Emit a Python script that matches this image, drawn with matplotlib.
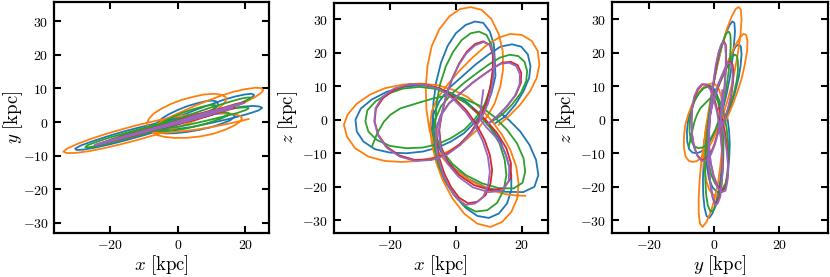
import matplotlib
matplotlib.use('Agg')
import matplotlib.pyplot as plt
from matplotlib.ticker import FuncFormatter

plt.rcParams['mathtext.fontset'] = 'cm'

# orbit traces (kpc)
blue_x = [12, 15, 18, 20.5, 22.2, 22.6, 21.8, 19.8, 17, 13.5,
          10, 6, 2, -2, -5, -6.8, -7.3,
          -6.8, -5.5, -3.5, -0.5, 3, 6.5, 10, 13, 15.5, 16.8, 16.8, 15.5, 13.5, 10.5, 7, 3,
          -1.5, -6, -11, -16, -21, -25.5, -28.8, -30.4, -30, -28, -24.5, -20, -15, -10, -5.5, -1.5, 2.5, 6, 9,
          10.8, 12, 11.8, 11.5, 10.3, 8.3, 5.8, 3, 0, -2.5, -4.5, -6, -6.8, -7, -6.3,
          -4, -0.5, 4, 9.3, 15, 20.4, 23.8, 25, 24.3, 22.3, 19.5, 16.2, 13.8]
blue_z = [-1, 1, 4.5, 8.5, 12.5, 16, 19.5, 21.8, 22.5, 21.8,
          19.5, 16.5, 13, 9.5, 5.5, 1.5, -3,
          -8, -13, -18, -22.5, -26.3, -28.7, -29.3, -28, -25, -21, -16.5, -11.5, -6.5, -2, 2, 5.5,
          8, 9.6, 10.3, 9.8, 8.3, 6, 3.3, 0, -3.5, -6.5, -8.8, -9.8, -10, -9.5, -8.3, -6.5, -4, -0.5, 3.5,
          8, 13, 18, 22.5, 26.3, 28.9, 29.3, 28.3, 25.8, 22, 17, 11, 5, -1, -6,
          -10.5, -14.5, -17.8, -20.3, -21.5, -21.6, -20, -16.5, -12, -7.5, -3.5, -0.2, 1.8]
blue_y = [3.0, 4.0, 5.3, 6.5, 7.5, 8.1, 8.4, 8.2, 7.6, 6.6,
          5.3, 3.9, 2.3, 0.8, -0.5, -1.6, -2.3,
          -2.9, -3.2, -3.4, -3.3, -2.9, -2.3, -1.5, -0.5, 0.5, 1.5, 2.1, 2.4, 2.6, 2.4, 2.1, 1.6,
          0.7, -0.3, -1.5, -2.8, -4.3, -5.8, -7.0, -7.9, -8.3, -8.2, -7.6, -6.6, -5.3, -3.9, -2.6, -1.3, 0.1, 1.5, 2.8,
          3.9, 4.9, 5.6, 6.1, 6.4, 6.2, 5.6, 4.8, 3.6, 2.4, 1.2, -0.1, -1.1, -1.9, -2.4,
          -2.5, -2.1, -1.5, -0.4, 0.9, 2.3, 3.4, 4.2, 4.6, 4.8, 4.6, 4.2, 3.8]

orange_x = [13, 16, 19.5, 22.5, 24.5, 25.3, 24.8, 23, 20, 16.5, 13,
            9, 5, 1, -2.5, -5.5, -7.3, -7.8,
            -7.3, -6, -4, -1, 2.5, 6.5, 10.5, 14, 16.8, 18.6, 19, 18.3, 16.5, 14, 11, 7.5, 3.5,
            -1, -5.5, -10.7, -16, -21.5, -26, -30, -32.8, -33.9, -33, -30.5, -26.5, -21.5, -16.5, -11.5,
            -6.7, -2, 2.5, 6.5, 9.5, 11.8,
            13.5, 14.3, 14.2, 13, 10.8, 7.8, 4.5, 1.2, -2, -5, -7.3, -8.6, -9.1, -8.9, -8, -6.3,
            -3.5, 0.5, 5, 10, 15, 18.5, 21]
orange_z = [-1.5, 1, 4.5, 8.5, 12.5, 16.5, 20.5, 23.5, 25.3, 25.6, 24.5,
            22, 18.5, 14.5, 10.5, 6.5, 2.5, -2,
            -7, -12.5, -18, -23.5, -28, -31, -32, -30.5, -27.5, -23.5, -19, -14, -9, -4.5, -0.5, 3.5, 6.8,
            9, 10.3, 10.8, 10.5, 9.4, 7.5, 4.8, 1.5, -1.5, -5, -8.5, -11, -12.3, -12.6, -12.3,
            -11.3, -9.3, -6.5, -3, 1, 5,
            10, 15, 20.5, 25.5, 30, 32.8, 33.6, 33, 30.8, 27, 22, 16, 9.8, 3, -3, -8,
            -12, -15.5, -18.5, -20.8, -22.2, -22.6, -22.7]
orange_y = [3.0, 4.2, 5.7, 7.2, 8.5, 9.4, 10.1, 10.2, 9.8, 9.0, 7.9,
            6.4, 4.8, 3.0, 1.4, -0.2, -1.3, -2.3,
            -3.1, -3.9, -4.4, -4.7, -4.7, -4.3, -3.5, -2.3, -1.0, 0.2, 1.2, 1.9, 2.4, 2.6, 2.7, 2.6, 2.2,
            1.5, 0.6, -0.6, -2.0, -3.6, -5.1, -6.6, -7.9, -8.8, -9.2, -9.2, -8.7, -7.7, -6.5, -5.2,
            -3.8, -2.3, -0.6, 1.0, 2.6, 3.9,
            5.3, 6.4, 7.4, 8.1, 8.4, 8.2, 7.5, 6.6, 5.4, 3.9, 2.4, 0.9, -0.4, -1.6, -2.6, -3.1,
            -3.2, -2.8, -2.3, -1.5, -0.5, 0.3, 0.9]

green_x = [11, 14, 17, 19.7, 21.3, 21.6, 20.8, 18.9, 16.3, 13.3,
           10, 6.5, 2.5, -1.5, -4.5, -6.3, -6.8,
           -6.3, -5, -3, -0.5, 2.5, 6, 9.5, 12.5, 14.5, 15.3, 14.8, 13.2, 10.5, 7, 3,
           -1.5, -6, -11, -16, -20.5, -24.3, -26.8, -27.4, -26.5, -24, -20, -15, -10, -5.5, -1.5, 2.5, 6, 8.7,
           10.3, 11.2, 11.3, 10.8, 9.3, 7, 4.5, 1.8, -0.8, -3, -4.8, -5.8, -6.2, -5.8,
           -4, -1, 3, 8, 13, 17.5, 20.2, 21, 20.5, 18.5, 15.5, 11.5, 7, 2, -2.5,
           -6.7, -11.5, -16.8, -19.8, -21.8, -23.8, -25.4]
green_z = [-0.5, 1.5, 4.5, 8, 11.5, 14.5, 17.3, 19, 19.4, 18.5,
           16.5, 14, 11, 7.5, 4, 0, -4,
           -9, -14, -18.5, -22.5, -25.6, -27.4, -27, -24.8, -21, -16.5, -12, -7, -2.5, 1.5, 5,
           7.5, 9.2, 9.8, 9.3, 7.8, 5.5, 2.8, -0.5, -3.5, -6, -7.8, -8.5, -8.3, -7.3, -5.5, -3, 0.5, 4.5,
           9, 14, 18.5, 22.3, 25.3, 26.3, 25.8, 23.8, 20.3, 16, 10.5, 5, -0.5, -5.5,
           -9.5, -13.2, -16.5, -19, -20.4, -20.5, -18.8, -15.5, -11.5, -7, -3, 1, 4.3, 6.5, 7.2,
           6.4, 5, 3.4, 1.5, -0.6, -4, -8]
green_y = [2.9, 3.9, 5.0, 6.1, 6.9, 7.3, 7.3, 7.0, 6.3, 5.4,
           4.4, 3.2, 1.8, 0.35, -0.8, -1.7, -2.2,
           -2.6, -2.75, -2.65, -2.4, -1.9, -1.1, -0.1, 0.9, 1.8, 2.5, 2.8, 2.9, 2.6, 2.0, 1.3,
           0.35, -0.7, -2.0, -3.4, -4.7, -6.0, -6.9, -7.45, -7.5, -7.1, -6.2, -4.9, -3.5, -2.2, -0.95, 0.4, 1.7, 2.8,
           3.7, 4.4, 4.9, 5.1, 5.0, 4.5, 3.8, 2.9, 1.8, 0.8, -0.25, -1.1, -1.7, -2.1,
           -2.0, -1.6, -0.85, 0.3, 1.5, 2.65, 3.6, 4.1, 4.4, 4.3, 3.9, 3.2, 2.3, 1.2, 0.0,
           -1.2, -2.6, -4.2, -5.2, -6.0, -6.8, -7.7]

red_x = [10, 12.5, 15.5, 18.2, 19.7, 19.8, 18.7, 16.6, 14, 11.5,
         8.5, 5, 1.5, -2, -4.5, -5.8, -5.8,
         -5, -3.5, -1.5, 1, 3.7, 6.5, 9, 10.5, 11, 10.3, 8.7, 6.3, 3.2,
         -0.5, -4.5, -9, -14, -18.5, -22, -24.2, -24.6, -23.5, -21, -17.2, -12.5, -7.5, -3, 1, 4.5, 7.3,
         9.2, 10.5, 11.2, 11.2, 10.3, 8.3, 5.8, 3.3, 1, -1, -2.8, -4.2, -5,
         -4.5, -2.5, 1, 5.5, 10.5, 14.5, 16.6, 16.7, 15.3, 12.5, 9, 5]
red_z = [-1, 1, 4, 7.5, 11, 14, 16.3, 17.3, 17, 15.6,
         13.5, 11, 8, 5, 1.5, -2.5, -7,
         -11.5, -16, -20, -23.3, -24.9, -24.5, -22.5, -19, -15, -10.5, -6, -1.5, 2.8,
         6.5, 9.2, 10.5, 10.5, 9, 6.5, 3.3, -0.5, -4.5, -8, -10.6, -12, -11.8, -10.3, -7.5, -3.8, 0.5,
         5, 10, 15, 19.5, 22.3, 23.4, 22.6, 20.3, 16.8, 12.5, 7.5, 2, -3,
         -8, -12.5, -16.5, -19.5, -21, -20.5, -17.5, -13, -8.5, -4, 0, 3.5]
red_y = [2.8, 3.5, 4.5, 5.3, 5.8, 5.9, 5.7, 5.2, 4.4, 3.7,
         2.8, 1.7, 0.65, -0.4, -1.2, -1.7, -1.8,
         -1.75, -1.5, -1.0, -0.4, 0.3, 1.1, 1.8, 2.3, 2.6, 2.6, 2.2, 1.7, 1.0,
         0.05, -1.0, -2.2, -3.6, -4.9, -6.0, -6.7, -6.9, -6.7, -6.1, -5.1, -3.9, -2.45, -1.15, 0.05, 1.15, 2.0,
         2.7, 3.2, 3.6, 3.7, 3.6, 3.0, 2.3, 1.5, 0.8, 0.1, -0.6, -1.1, -1.5,
         -1.5, -1.1, -0.2, 0.95, 2.3, 3.5, 4.1, 4.3, 4.0, 3.4, 2.5, 1.5]

purple_x = [9.5, 12, 15, 17.8, 19.3, 19.4, 18.3, 16.2, 13.6, 11.2,
            8.2, 4.8, 1.3, -2.2, -4.7, -6, -6,
            -5.2, -3.8, -1.8, 0.5, 3, 5.8, 8.3, 9.8, 10.3, 9.7, 8.2, 6, 3,
            -0.6, -4.5, -9, -14, -18.7, -22.2, -24.3, -24.7, -23.5, -21, -17, -12.3, -7.3, -2.8, 1.3, 4.8, 7.8,
            9.8, 11, 11.6, 11.5, 10.5, 8.4, 5.8, 3.2, 0.8, -1.2, -3, -4.4, -5.2,
            -4.6, -2.6, 0.8, 5.2, 10, 14, 16, 16.2, 14.8, 12.2, 9.2, 7.5, 7.6, 8, 8.3]
purple_z = [-1.5, 0.5, 3.5, 7, 10.5, 13.6, 16, 17, 16.7, 15.3,
            13.3, 10.8, 7.8, 4.7, 1, -3, -7.5,
            -12, -16.5, -20.5, -23.7, -25.4, -25, -23, -19.5, -15.5, -11, -6.5, -2, 2.3,
            6, 8.9, 10.4, 10.6, 9.3, 6.8, 3.5, -0.5, -4.8, -8.3, -11, -12.3, -12, -10.5, -7.6, -3.8, 0.5,
            5, 10, 15, 19.5, 22.3, 23.2, 22.2, 19.8, 16.2, 12, 7, 1.5, -3.5,
            -8.5, -13, -17, -20.2, -21.6, -21.2, -18.3, -14, -9.5, -5.3, -2.2, 0, 3.5, 6.5, 8.8]
purple_y = [2.6, 3.4, 4.3, 5.1, 5.6, 5.7, 5.4, 4.9, 4.1, 3.4,
            2.6, 1.5, 0.5, -0.5, -1.3, -1.7, -1.8,
            -1.7, -1.4, -0.9, -0.3, 0.3, 1.1, 1.9, 2.3, 2.6, 2.5, 2.2, 1.6, 0.9,
            -0.05, -1.1, -2.3, -3.7, -5.0, -6.1, -6.7, -6.9, -6.7, -6.1, -5.0, -3.7, -2.3, -1.0, 0.2, 1.3, 2.2,
            2.8, 3.3, 3.55, 3.6, 3.4, 2.8, 2.1, 1.3, 0.5, -0.1, -0.7, -1.2, -1.5,
            -1.5, -1.0, -0.1, 1.05, 2.4, 3.5, 4.1, 4.3, 3.9, 3.3, 2.5, 2.1, 2.2, 2.4, 2.5]

orbits = [(blue_x, blue_y, blue_z, 'tab:blue'),
          (orange_x, orange_y, orange_z, 'tab:orange'),
          (green_x, green_y, green_z, 'tab:green'),
          (red_x, red_y, red_z, 'tab:red'),
          (purple_x, purple_y, purple_z, 'tab:purple')]

fig = plt.figure(figsize=(8.3, 2.77), dpi=100)
ax1 = fig.add_axes([0.0654, 0.16, 0.259, 0.834])
ax2 = fig.add_axes([0.4024, 0.16, 0.2578, 0.830])
ax3 = fig.add_axes([0.7373, 0.16, 0.2602, 0.834])

for x, y, z, c in orbits:
    ax1.plot(x, y, color=c, lw=1.3)
    ax2.plot(x, z, color=c, lw=1.3)
    ax3.plot(y, z, color=c, lw=1.3)

#panel limits and labels
ax1.set_xlim(-36.6, 27.1)
ax1.set_ylim(-32.9, 35.8)
ax2.set_xlim(-36.9, 27.9)
ax2.set_ylim(-33.7, 34.9)
ax3.set_xlim(-31.2, 34.8)
ax3.set_ylim(-33.7, 35.2)

labels = [(ax1, 'x', 'y', -0.135), (ax2, 'x', 'z', -0.158), (ax3, 'y', 'z', -0.157)]
fmt = FuncFormatter(lambda v, p: '$%d$' % v)
for ax, xl, yl, lx in labels:
    ax.set_xticks([-20, 0, 20])
    ax.set_yticks([-30, -20, -10, 0, 10, 20, 30])
    ax.xaxis.set_major_formatter(fmt)
    ax.yaxis.set_major_formatter(fmt)
    ax.set_xlabel(r'$%s\ [\mathrm{kpc}]$' % xl, fontsize=13.5, labelpad=0.5)
    ax.set_ylabel(r'$%s\ [\mathrm{kpc}]$' % yl, fontsize=13.5)
    ax.yaxis.set_label_coords(lx, 0.5)
    ax.tick_params(direction='in', top=True, right=True, length=5, width=1.5,
                   labelsize=10, pad=4)
    for s in ax.spines.values():
        s.set_linewidth(1.6)

plt.savefig('out.png', dpi=100)
